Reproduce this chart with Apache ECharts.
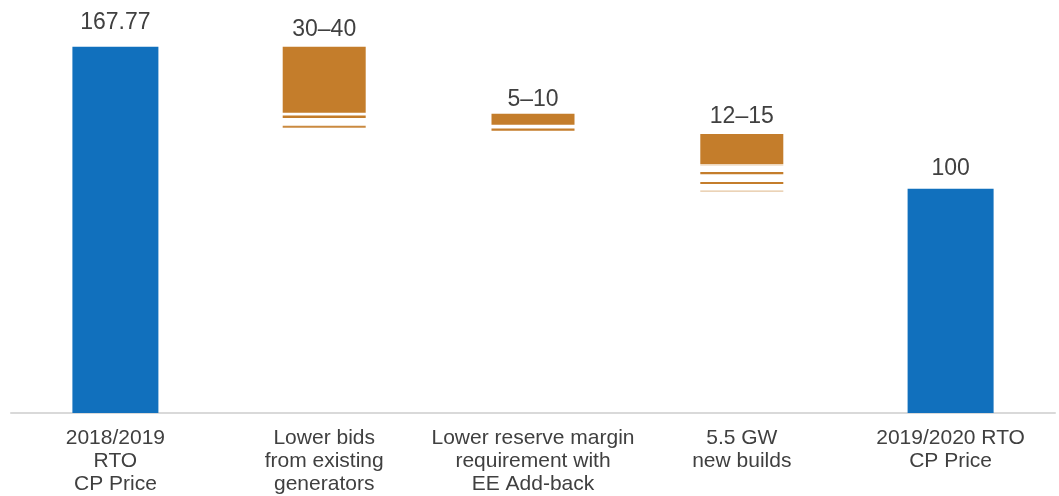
<!DOCTYPE html>
<html>
<head>
<meta charset="utf-8">
<script src="https://cdn.jsdelivr.net/npm/echarts@6/dist/echarts.min.js"></script>
<style>
  html, body { margin: 0; padding: 0; background: #fff; }
  #chart { width: 1059px; height: 496px; }
</style>
</head>
<body>
<div id="chart"></div>
<script>
// ---- data ----
const categories = [
  '2018/2019\nRTO\nCP Price',
  'Lower bids\nfrom existing\ngenerators',
  'Lower reserve margin\nrequirement with\nEE Add-back',
  '5.5 GW\nnew builds',
  '2019/2020 RTO\nCP Price'
];
const totalValues = [167.77, '-', '-', '-', 102.7];

const changeCategoryIndex = [1, 2, 3];
const changeStart = [167.77, 137.1, 127.8];
const changeSolidEnd = [137.5, 132.0, 114.0];
const changeStripes = [[135.7, 131.1], [129.8], [113.6, 109.9, 105.4, 101.6]];

const valueLabels = ['167.77', '30–40', '5–10', '12–15', '100'];
const labelTops = [167.77, 167.77, 137.1, 127.8, 102.7];

// ---- styles (kept apart from data) ----
const BLUE = '#1170BD';
const ORANGE = '#C47D2B';
const TEXT = '#404040';
const FONT = 'Arial, "Liberation Sans", sans-serif';
const stripeHeights = [[2.6, 1.8], [2.2], [1.2, 2.3, 2, 1.3]];
const stripeAlphas = [[1, 0.9], [1], [0.4, 1, 1, 0.45]];
const labelGaps = [24.5, 17.5, 14.5, 17, 20.5];

const changeData = changeCategoryIndex.map((c, i) => [c, changeStart[i], changeSolidEnd[i]]);
const labelData = labelTops.map((v, i) => [i, v]);

const chart = echarts.init(document.getElementById('chart'), null, { renderer: 'canvas' });
chart.setOption({
  animation: false,
  backgroundColor: '#fff',
  grid: { left: 11, right: 4, top: 20, bottom: 83, containLabel: false },
  xAxis: {
    type: 'category',
    data: categories,
    axisLine: { show: true, lineStyle: { color: '#D9D9D9', width: 2 } },
    axisTick: { show: false },
    axisLabel: {
      interval: 0, color: TEXT, fontSize: 21, lineHeight: 23, margin: 14,
      fontFamily: FONT
    }
  },
  yAxis: {
    type: 'value', min: 0, max: 180,
    show: false, splitLine: { show: false }
  },
  series: [
    {
      type: 'bar',
      data: totalValues,
      barWidth: 86,
      itemStyle: { color: BLUE },
      z: 2
    },
    {
      type: 'custom',
      data: changeData,
      renderItem: function (params, api) {
        const i = params.dataIndex;
        const cat = api.value(0);
        const x = api.coord([cat, 0])[0];
        const yTop = api.coord([cat, api.value(1)])[1];
        const ySolid = api.coord([cat, api.value(2)])[1];
        const w = 83;
        const children = [{
          type: 'rect',
          shape: { x: x - w / 2, y: yTop, width: w, height: ySolid - yTop },
          style: { fill: ORANGE }
        }];
        changeStripes[i].forEach((s, j) => {
          const y = api.coord([cat, s])[1];
          const h = stripeHeights[i][j];
          children.push({
            type: 'rect',
            shape: { x: x - w / 2, y: y - h / 2, width: w, height: h },
            style: { fill: ORANGE, opacity: stripeAlphas[i][j] }
          });
        });
        return { type: 'group', children: children };
      },
      z: 3
    },
    {
      type: 'custom',
      data: labelData,
      renderItem: function (params, api) {
        const i = params.dataIndex;
        const p = api.coord([api.value(0), api.value(1)]);
        return {
          type: 'text',
          style: {
            text: valueLabels[i], x: p[0], y: p[1] - labelGaps[i],
            align: 'center', verticalAlign: 'middle',
            fill: TEXT, fontSize: 23, fontFamily: FONT
          }
        };
      },
      z: 4
    }
  ]
});
</script>
</body>
</html>
